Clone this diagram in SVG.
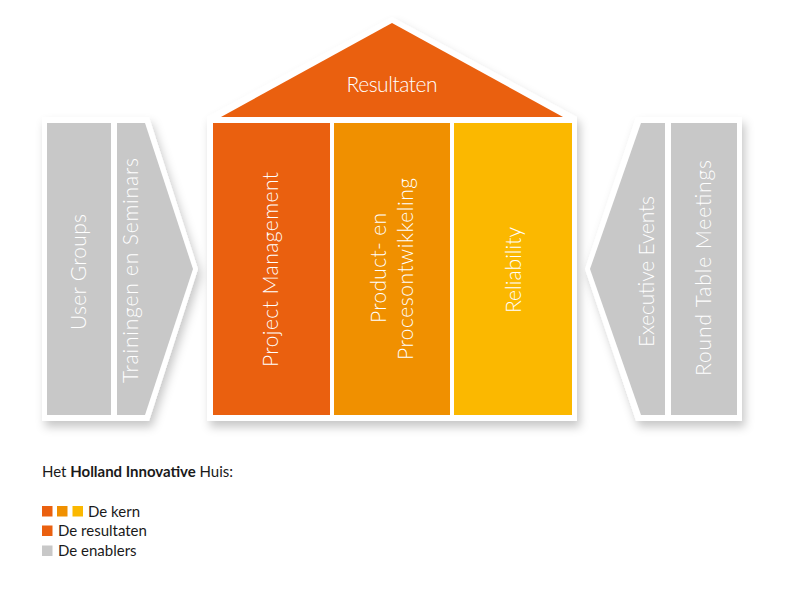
<svg xmlns="http://www.w3.org/2000/svg" width="799" height="594" viewBox="0 0 799 594">
  <defs>
    <filter id="sh" x="-20%" y="-20%" width="140%" height="140%">
      <feDropShadow dx="3" dy="6" stdDeviation="5" flood-color="#000" flood-opacity="0.22"/>
    </filter>
  </defs>
  <style>
    .frame { fill: #ffffff; filter: url(#sh); }
    .gray { fill: #c8c8c8; }
    .o1 { fill: #ea600f; }
    .o2 { fill: #f09000; }
    .o3 { fill: #fbb800; }
    .lbl { font-family: Lato, "Open Sans", "Liberation Sans", sans-serif; font-weight: 300; fill: #ffffff; font-size: 21px; text-anchor: middle; }
    .leg { font-family: Lato, "Open Sans", "Liberation Sans", sans-serif; font-weight: 400; fill: #1a1a1a; font-size: 15px; }
  </style>
  <rect width="799" height="594" fill="#ffffff"/>

  <g id="left-enablers">
    <polygon class="frame" points="42,117 149,117 198,269 149,421 42,421"/>
    <rect class="gray" x="47" y="123" width="64" height="292"/>
    <polygon class="gray" points="117,123 145,123 193,269 145,415 117,415"/>
    <text class="lbl" transform="translate(86,272) rotate(-90)" textLength="116">User Groups</text>
    <text class="lbl" transform="translate(138,270.5) rotate(-90)" textLength="225">Trainingen en Seminars</text>
  </g>

  <g id="house">
    <polygon class="frame" points="207,117 392,17 577,117 577,421 207,421"/>
    <polygon class="o1" points="221,117 392,23 563,117"/>
    <text class="lbl" x="392" y="92" font-size="20" textLength="91">Resultaten</text>
  </g>

  <g id="project-management">
    <rect class="o1" x="213" y="123" width="117" height="292"/>
    <text class="lbl" transform="translate(278,269.5) rotate(-90)" textLength="195">Project Management</text>
  </g>
  <g id="product-procesontwikkeling">
    <rect class="o2" x="334" y="123" width="116" height="292"/>
    <text class="lbl" transform="translate(386,268) rotate(-90)" textLength="110">Product- en</text>
    <text class="lbl" transform="translate(413,269) rotate(-90)" textLength="182">Procesontwikkeling</text>
  </g>
  <g id="reliability">
    <rect class="o3" x="454" y="123" width="118" height="292"/>
    <text class="lbl" transform="translate(521,270) rotate(-90)" textLength="86">Reliability</text>
  </g>

  <g id="right-enablers">
    <polygon class="frame" points="742,117 636,117 585,269 636,421 742,421"/>
    <polygon class="gray" points="665,123 641,123 590,269 641,415 665,415"/>
    <rect class="gray" x="671" y="123" width="66" height="292"/>
    <text class="lbl" transform="translate(654,271.5) rotate(-90)" textLength="151">Executive Events</text>
    <text class="lbl" transform="translate(711,268) rotate(-90)" textLength="216">Round Table Meetings</text>
  </g>

  <g id="legend">
    <text class="leg" x="42" y="477" font-size="16" textLength="191">Het <tspan font-weight="700">Holland Innovative</tspan> Huis:</text>
    <rect class="o1" x="42" y="506" width="10.5" height="10.5"/>
    <rect class="o2" x="57" y="506" width="10.5" height="10.5"/>
    <rect class="o3" x="72.5" y="506" width="10.5" height="10.5"/>
    <text class="leg" x="88" y="517">De kern</text>
    <rect class="o1" x="42" y="525.5" width="10.5" height="10.5"/>
    <text class="leg" x="58" y="536">De resultaten</text>
    <rect class="gray" x="42" y="545.5" width="10.5" height="10.5"/>
    <text class="leg" x="58" y="556">De enablers</text>
  </g>
</svg>
